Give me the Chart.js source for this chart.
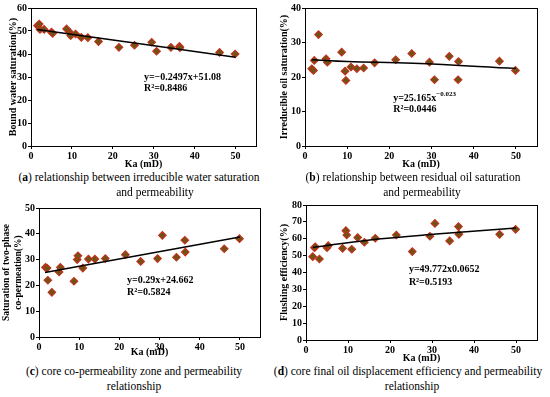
<!DOCTYPE html>
<html>
<head>
<meta charset="utf-8">
<script src="https://cdn.jsdelivr.net/npm/chart.js@4"></script>
<style>
  html, body { margin: 0; padding: 0; background: #fff; }
  #wrap { position: relative; width: 550px; height: 397px; overflow: hidden; }
  #wrap canvas { position: absolute; }
  .cap { position: absolute; font: 11.5px "Liberation Serif", "Times New Roman", serif; color: #000;
         white-space: nowrap; transform: translate(-50%, -50%); }
</style>
</head>
<body>
<div id="wrap">
  <canvas id="pa" style="left:0;top:0;"></canvas>
  <canvas id="pb" style="left:270px;top:0;"></canvas>
  <canvas id="pc" style="left:0;top:195px;"></canvas>
  <canvas id="pd" style="left:270px;top:195px;"></canvas>

  <div class="cap" style="left:139px;top:177px;">(<b>a</b>) relationship between irreducible water saturation</div>
  <div class="cap" style="left:155px;top:192px;">and permeability</div>
  <div class="cap" style="left:413px;top:177px;">(<b>b</b>) relationship between residual oil saturation</div>
  <div class="cap" style="left:422px;top:192px;">and permeability</div>
  <div class="cap" style="left:134px;top:371px;">(<b>c</b>) core co-permeability zone and permeability</div>
  <div class="cap" style="left:134px;top:386px;">relationship</div>
  <div class="cap" style="left:408px;top:371px;">(<b>d</b>) core final oil displacement efficiency and permeability</div>
  <div class="cap" style="left:412px;top:386px;">relationship</div>
</div>
<script>
'use strict';

/* ── Data ─────────────────────────────────────────────────── */
const ka = [1.6, 2.0, 2.2, 3.2, 5.0, 5.3, 8.7, 9.5, 9.7, 10.9, 12.3, 13.9, 16.5, 21.5, 25.3, 29.5, 30.7, 34.2, 36.3, 36.4, 46.1, 49.9];

const boundWater  = [52.3, 53.0, 50.7, 50.7, 49.5, 49.0, 50.9, 49.4, 48.0, 48.7, 47.2, 47.1, 45.4, 42.9, 43.8, 45.1, 41.2, 42.9, 43.3, 42.7, 40.7, 40.0];
const residualOil = [22.4, 21.9, 24.8, 32.3, 25.3, 24.3, 27.2, 21.7, 19.0, 22.9, 22.4, 22.6, 24.1, 25.0, 26.8, 24.3, 19.2, 26.0, 19.2, 24.5, 24.6, 21.9];
const twoPhase    = [27.0, 26.7, 22.0, 17.3, 25.2, 27.0, 21.6, 30.0, 31.5, 26.7, 30.2, 30.2, 30.4, 31.9, 29.3, 30.4, 39.4, 30.9, 37.5, 32.9, 34.2, 38.1];
const flushing    = [49.4, 54.7, 55.2, 48.0, 54.7, 55.9, 54.3, 64.8, 62.2, 53.8, 60.7, 57.9, 60.3, 62.2, 52.4, 61.5, 69.1, 58.7, 67.2, 62.6, 62.6, 65.6];

// fitted lines, points
const trendAx = [1.5, 50],              trendAy = [50.7, 38.6];
const trendBx = [1.6, 10, 25.6, 50],    trendBy = [25.0, 24.5, 24.0, 22.5];
const trendCx = [1.5, 50],              trendCy = [25.0, 38.8];
const trendDx = [1.6, 15.2, 31.0, 50],  trendDy = [54.8, 59.3, 62.8, 66.3];

const xTicks = [0, 10, 20, 30, 40, 50];

/* ── Plot frame + equation text ───────────────────────────── */
const SERIF = '"Liberation Serif", "Times New Roman", serif';

const notePlugin = {
  id: 'frameNote',
  afterDraw(ch, args, opts) {
    const ctx = ch.ctx;
    const a = ch.chartArea;
    ctx.save();
    ctx.strokeStyle = '#000';
    ctx.lineWidth = 1;
    ctx.strokeRect(Math.round(a.left) + 0.5, Math.round(a.top) + 0.5,
                   Math.round(a.right - a.left), Math.round(a.bottom - a.top));

    if (opts.lines) {
      const xs = ch.scales.x, ys = ch.scales.y;
      let px = xs.getPixelForValue(opts.x);
      opts.lines.forEach((segs, i) => {
        const py = ys.getPixelForValue(opts.y[i]);
        let cx = px;
        segs.forEach(s => {
          ctx.font = 'bold ' + (s.sup ? 7 : 10) + 'px ' + SERIF;
          ctx.fillStyle = '#000';
          ctx.textBaseline = 'middle';
          ctx.textAlign = 'left';
          ctx.fillText(s.t, cx, s.sup ? py - 4 : py);
          cx += ctx.measureText(s.t).width;
        });
      });
    }
    ctx.restore();
  }
};

function pts(xs, ys) { return xs.map((x, i) => ({ x, y: ys[i] })); }

function makePanel(id, cfg) {
  const cv = document.getElementById(id);
  cv.width = cfg.w; cv.height = cfg.h;
  cv.style.width = cfg.w + 'px'; cv.style.height = cfg.h + 'px';

  new Chart(cv, {
    type: 'scatter',
    data: {
      datasets: [
        {
          data: pts(ka, cfg.values),
          pointStyle: 'rectRot',
          pointRadius: 3.8,
          backgroundColor: '#6f5314',
          borderColor: '#c4301c',
          borderWidth: 1.1,
          order: 2,
        },
        {
          type: 'line',
          data: pts(cfg.trendX, cfg.trendY),
          borderColor: '#000',
          borderWidth: 1.5,
          pointRadius: 0,
          tension: 0.4,
          fill: false,
          order: 1,
        }
      ]
    },
    plugins: [notePlugin],
    options: {
      responsive: false,
      animation: false,
      layout: { padding: { top: cfg.top, right: cfg.right, left: 0, bottom: 0 } },
      plugins: {
        legend: { display: false },
        tooltip: { enabled: false },
        frameNote: cfg.note,
      },
      scales: {
        x: {
          type: 'linear', min: 0, max: 55,
          afterBuildTicks: s => { s.ticks = xTicks.map(v => ({ value: v })); },
          afterFit: s => { s.height = cfg.xh; },
          grid: { drawOnChartArea: false, tickLength: 3, color: '#000' },
          border: { color: '#000', width: 1 },
          ticks: { color: '#000', padding: 1, maxRotation: 0,
                   font: { family: SERIF, size: 10, weight: 'bold' } },
          title: { display: true, text: 'Ka (mD)', color: '#000', padding: 0,
                   font: { family: SERIF, size: 10, weight: 'bold' } },
        },
        y: {
          type: 'linear', min: 0, max: cfg.ymax,
          ticks: { stepSize: 10, color: '#000', padding: 1,
                   font: { family: SERIF, size: 10, weight: 'bold' } },
          afterFit: s => { s.width = cfg.yw; },
          grid: { drawOnChartArea: false, tickLength: 3, color: '#000' },
          border: { color: '#000', width: 1 },
          title: { display: true, text: cfg.ytitle, color: '#000',
                   padding: { top: cfg.ytpad, bottom: 0 },
                   font: { family: SERIF, size: cfg.ytsize || 10, weight: 'bold', lineHeight: 1.3 } },
        }
      }
    }
  });
}

makePanel('pa', {
  w: 270, h: 170, top: 8, right: 14, yw: 31, xh: 24, ymax: 60, ytpad: 7,
  ytitle: 'Bound water saturation(%)',
  values: boundWater, trendX: trendAx, trendY: trendAy,
  note: { x: 27.6, y: [30, 25], lines: [[{ t: 'y=−0.2497x+51.08' }], [{ t: 'R²=0.8486' }]] },
});

makePanel('pb', {
  w: 280, h: 170, top: 8, right: 13, yw: 35, xh: 24, ymax: 40, ytpad: 8,
  ytitle: 'Irreducible oil saturation(%)',
  values: residualOil, trendX: trendBx, trendY: trendBy,
  note: { x: 20.9, y: [13.9, 10.7], lines: [[{ t: 'y=25.165x' }, { t: '−0.023', sup: true }], [{ t: 'R²=0.0446' }]] },
});

makePanel('pc', {
  w: 270, h: 163, top: 13, right: 10, yw: 39, xh: 21, ymax: 50, ytpad: 0, ytsize: 9.5,
  ytitle: ['Saturation of two-phase', 'co-permeation(%)'],
  values: twoPhase, trendX: trendCx, trendY: trendCy,
  note: { x: 21.9, y: [22.1, 17.2], lines: [[{ t: 'y=0.29x+24.662' }], [{ t: 'R²=0.5824' }]] },
});

makePanel('pd', {
  w: 280, h: 169, top: 10, right: 13, yw: 36, xh: 24, ymax: 80, ytpad: 8,
  ytitle: 'Flushing efficiency(%)',
  values: flushing, trendX: trendDx, trendY: trendDy,
  note: { x: 24.5, y: [42, 34.2], lines: [[{ t: 'y=49.772x0.0652' }], [{ t: 'R²=0.5193' }]] },
});
</script>
</body>
</html>
